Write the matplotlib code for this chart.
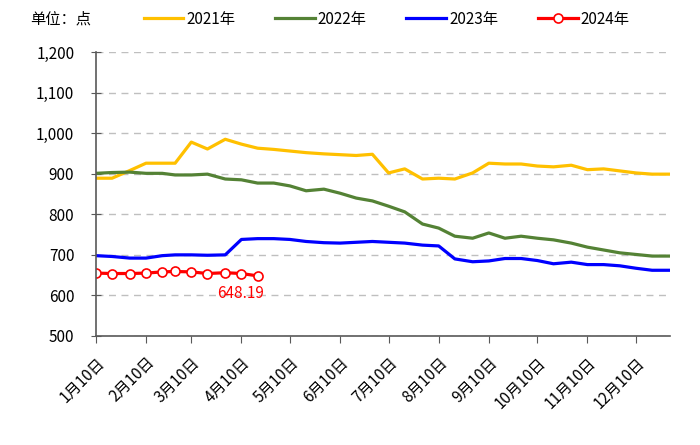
import datetime as dt

import matplotlib
matplotlib.use("Agg")
import matplotlib.pyplot as plt
from matplotlib.ticker import FuncFormatter, MultipleLocator

plt.rcParams['font.family'] = ['Noto Sans CJK SC', 'DejaVu Sans']

# observation dates (month, day): 10th, 20th and month end
date_md = [(1, 10), (1, 20), (1, 31), (2, 10), (2, 20), (2, 28), (3, 10), (3, 20), (3, 31),
           (4, 10), (4, 20), (4, 30), (5, 10), (5, 20), (5, 31), (6, 10), (6, 20), (6, 30),
           (7, 10), (7, 20), (7, 31), (8, 10), (8, 20), (8, 31), (9, 10), (9, 20), (9, 30),
           (10, 10), (10, 20), (10, 31), (11, 10), (11, 20), (11, 30), (12, 10), (12, 20), (12, 31)]

v2021 = [889, 889, 908, 926, 926, 926, 978, 961, 985, 973, 963, 960,
         956, 952, 949, 947, 945, 948, 902, 912, 887, 889, 887, 902,
         926, 924, 924, 919, 917, 921, 910, 912, 907, 902, 899, 899]
v2022 = [901, 903, 904, 901, 901, 897, 897, 899, 887, 885, 877, 877,
         870, 858, 862, 852, 840, 833, 820, 806, 776, 766, 746, 741,
         754, 741, 746, 741, 737, 729, 719, 712, 705, 701, 697, 697]
v2023 = [698, 696, 692, 692, 698, 700, 700, 699, 700, 738, 740, 740,
         738, 733, 730, 729, 731, 733, 731, 729, 724, 722, 690, 683,
         685, 691, 691, 686, 678, 682, 676, 676, 673, 667, 662, 662]
v2024 = [655, 654, 654, 655, 658, 659, 658, 654, 656, 654, 648.19]

series_names = ['2021年', '2022年', '2023年', '2024年']
colors = ['#FFC000', '#548235', '#0000FF', '#FF0000']

dates = [dt.date(2021, m, d) for m, d in date_md]

fig = plt.figure(figsize=(7, 4.45), dpi=100)
ax = fig.add_axes([0.137, 0.245, 0.82, 0.638])

lines = []
for vals, name, c in zip([v2021, v2022, v2023], series_names[:3], colors[:3]):
    l, = ax.plot(dates[:len(vals)], vals, color=c, lw=2.3, label=name)
    lines.append(l)
l, = ax.plot(dates[:len(v2024)], v2024, color=colors[3], lw=2.3, marker='o',
             markersize=6.5, markerfacecolor='white', markeredgecolor=colors[3],
             markeredgewidth=1.2, label=series_names[3])
lines.append(l)

ax.annotate(f"{v2024[-1]:.2f}", (dates[len(v2024) - 1], v2024[-1]),
            xytext=(-12, -13), textcoords='offset points', ha='center', va='center',
            color='#FF0000', fontsize=11)

ax.set_ylim(500, 1200)
ax.yaxis.set_major_locator(MultipleLocator(100))
ax.yaxis.set_major_formatter(FuncFormatter(lambda v, p: f"{int(v):,}"))
ax.set_xlim(dates[0], dates[-1])

ticks = [dt.date(2021, m, 10) for m in range(1, 13)]
ax.set_xticks(ticks)
ax.set_xticklabels([f"{d.month}月10日" for d in ticks], rotation=45, ha='right',
                   rotation_mode='anchor', fontsize=11)
ax.tick_params(axis='x', length=5, color='#595959', pad=8)
ax.tick_params(axis='y', direction='inout', length=7, color='#595959', labelsize=11, pad=12)

ax.grid(axis='y', color='#BFBFBF', linestyle=(0, (5, 4)), lw=1)
ax.set_axisbelow(True)
for s in ['top', 'right']:
    ax.spines[s].set_visible(False)
for s in ['left', 'bottom']:
    ax.spines[s].set_color('#595959')
    ax.spines[s].set_linewidth(1.2)

fig.text(0.043, 0.957, "单位：点", fontsize=11, va='center', ha='left')
fig.legend(handles=lines, loc='center left', bbox_to_anchor=(0.205, 0.957), ncol=4,
           frameon=False, fontsize=11, handlelength=2.6, handletextpad=0.2,
           columnspacing=2.6, borderpad=0, borderaxespad=0)

fig.savefig('out.png', dpi=100)
